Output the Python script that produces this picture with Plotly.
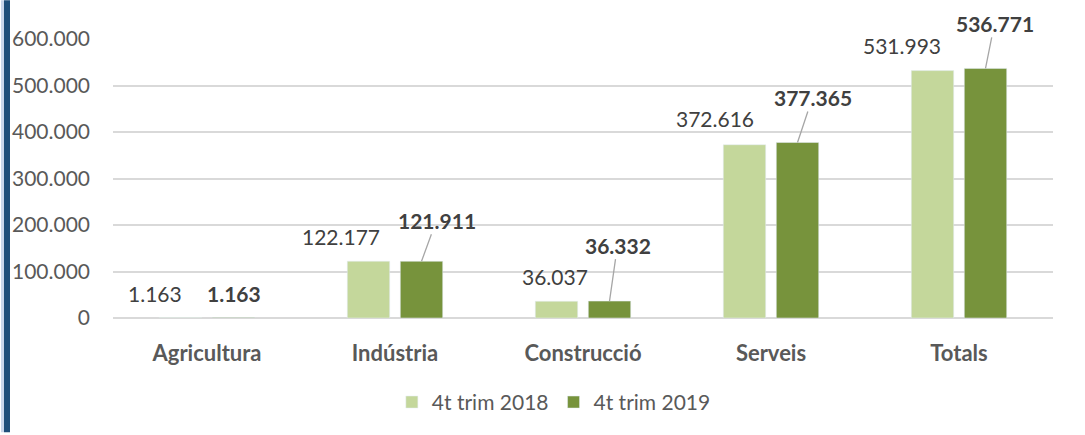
import plotly.graph_objs as go

# Data
categories = ["Agricultura", "Indústria", "Construcció", "Serveis", "Totals"]
values_2018 = [1163, 122177, 36037, 372616, 531993]
values_2019 = [1163, 121911, 36332, 377365, 536771]
series_names = ["4t trim 2018", "4t trim 2019"]
y_ticks = [0, 100000, 200000, 300000, 400000, 500000, 600000]

# Label placement (pixels relative to bar top), Excel labels were moved by hand
light_shift = [(-25, 24), (-27, 25), (-1, 25), (-29, 26), (-30, 25)]
dark_shift = [(0, -24), (15, -41), (8, -56), (15, -45), (9, -45)]
dark_leader = [False, True, True, True, True]

light = "#C4D79B"
dark = "#77933C"
font_family = "Lato, 'Open Sans', sans-serif"

bargap = 0.436
bargroupgap = 0.2
off = (1 - bargap) / 4


def fmt(v):
    return f"{v:,}".replace(",", ".")


trace0 = go.Bar(
    x=categories,
    y=values_2018,
    name=series_names[0],
    marker=dict(color=light),
    hoverinfo="x+y",
)
trace1 = go.Bar(
    x=categories,
    y=values_2019,
    name=series_names[1],
    marker=dict(color=dark),
    hoverinfo="x+y",
)

annotations = []
for i, (v18, v19) in enumerate(zip(values_2018, values_2019)):
    annotations.append(
        dict(
            x=i - off,
            y=v18,
            text=fmt(v18),
            showarrow=False,
            xshift=light_shift[i][0],
            yshift=light_shift[i][1],
            font=dict(size=21, color="#404040", family=font_family),
        )
    )
    if dark_leader[i]:
        annotations.append(
            dict(
                x=i + off,
                y=v19,
                text="<b>" + fmt(v19) + "</b>",
                showarrow=True,
                arrowhead=0,
                arrowwidth=1.3,
                arrowcolor="#A6A6A6",
                ax=dark_shift[i][0],
                ay=dark_shift[i][1],
                standoff=0,
                font=dict(size=21, color="#404040", family=font_family),
            )
        )
    else:
        annotations.append(
            dict(
                x=i + off,
                y=v19,
                text="<b>" + fmt(v19) + "</b>",
                showarrow=False,
                xshift=dark_shift[i][0],
                yshift=-dark_shift[i][1],
                font=dict(size=21, color="#404040", family=font_family),
            )
        )

# Blue page border on the left
plot_w = 1085 - 113 - 32
plot_h = 435 - 39 - 115
shapes = [
    dict(type="rect", xref="paper", yref="paper",
         x0=-112 / plot_w, x1=-109 / plot_w, y0=-115 / plot_h, y1=(plot_h + 39) / plot_h,
         fillcolor="#C9D6EA", line=dict(width=0), layer="above"),
    dict(type="rect", xref="paper", yref="paper",
         x0=-109 / plot_w, x1=-103 / plot_w, y0=-115 / plot_h, y1=(plot_h + 39) / plot_h,
         fillcolor="#1F4E79", line=dict(width=0), layer="above"),
]

layout = go.Layout(
    barmode="group",
    bargap=bargap,
    bargroupgap=bargroupgap,
    separators=",.",
    xaxis=dict(
        type="category",
        showgrid=False,
        zeroline=False,
        showline=False,
        ticks="",
        ticklabelstandoff=20,
        tickfont=dict(size=22, color="#595959", family=font_family, weight="bold"),
    ),
    yaxis=dict(
        range=[0, 600000],
        tickvals=y_ticks,
        tickformat=",d",
        showgrid=True,
        gridcolor="#D9D9D9",
        gridwidth=1.5,
        zeroline=True,
        zerolinecolor="#D9D9D9",
        zerolinewidth=1.5,
        ticks="",
        ticklabelstandoff=22,
        tickfont=dict(size=21, color="#595959", family=font_family),
    ),
    legend=dict(
        orientation="h",
        x=0.469,
        xanchor="center",
        y=-85 / plot_h,
        yanchor="middle",
        font=dict(size=21, color="#595959", family=font_family),
        itemwidth=30,
    ),
    annotations=annotations,
    shapes=shapes,
    margin=dict(l=113, r=32, t=39, b=115),
    width=1085,
    height=435,
    plot_bgcolor="white",
    paper_bgcolor="white",
    font=dict(family=font_family, color="#595959"),
)

fig = go.Figure(data=[trace0, trace1], layout=layout)
fig.write_html(
    "out.html",
    config={"displayModeBar": False},
    post_script="document.body.style.margin='0';document.body.style.overflow='hidden';",
)
